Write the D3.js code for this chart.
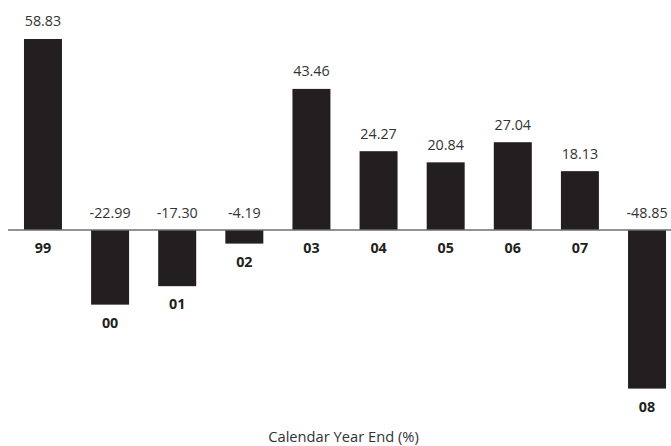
<!DOCTYPE html>
<html>
<head>
<meta charset="utf-8">
<script src="https://cdn.jsdelivr.net/npm/d3@7"></script>
<style>
  html, body { margin: 0; padding: 0; background: #fff; }
  svg { display: block; }
  text { font-family: "Open Sans", sans-serif; }
</style>
</head>
<body>
<script>
const categories = ["99", "00", "01", "02", "03", "04", "05", "06", "07", "08"];
const values = [58.83, -22.99, -17.30, -4.19, 43.46, 24.27, 20.84, 27.04, 18.13, -48.85];
const valueLabels = ["58.83", "-22.99", "-17.30", "-4.19", "43.46", "24.27", "20.84", "27.04", "18.13", "-48.85"];
const axisTitle = "Calendar Year End (%)";

const W = 671, H = 446;
const svg = d3.select("body").append("svg").attr("width", W).attr("height", H);

const x = d3.scaleBand()
  .domain(categories)
  .range([8, 682])
  .paddingInner(0.434)
  .paddingOuter(0.238);

const y = d3.scaleLinear()
  .domain([-50, 60])
  .range([392.35, 35.2]);

const data = categories.map((c, i) => ({ c, v: values[i], label: valueLabels[i] }));

svg.append("g").selectAll("rect")
  .data(data).join("rect")
  .attr("x", d => x(d.c))
  .attr("width", x.bandwidth())
  .attr("y", d => y(Math.max(0, d.v)))
  .attr("height", d => Math.abs(y(d.v) - y(0)))
  .attr("fill", "#231f20");

// baseline
svg.append("line")
  .attr("x1", 8).attr("x2", W)
  .attr("y1", y(0)).attr("y2", y(0))
  .attr("stroke", "#6d6e71").attr("stroke-width", 1.5);

// value labels
svg.append("g").selectAll("text")
  .data(data).join("text")
  .attr("x", d => x(d.c) + x.bandwidth() / 2)
  .attr("y", d => y(Math.max(0, d.v)) - 12.5)
  .attr("text-anchor", "middle")
  .attr("font-size", 14.3)
  .attr("fill", "#333")
  .text(d => d.label);

// category labels
svg.append("g").selectAll("text")
  .data(data).join("text")
  .attr("x", d => x(d.c) + x.bandwidth() / 2)
  .attr("y", d => y(Math.min(0, d.v)) + 23)
  .attr("text-anchor", "middle")
  .attr("font-size", 14.3)
  .attr("font-weight", "bold")
  .attr("fill", "#231f20")
  .text(d => d.c);

svg.append("text")
  .attr("x", 343.5).attr("y", 442)
  .attr("text-anchor", "middle")
  .attr("font-size", 14.7)
  .attr("fill", "#333")
  .text(axisTitle);
</script>
</body>
</html>
